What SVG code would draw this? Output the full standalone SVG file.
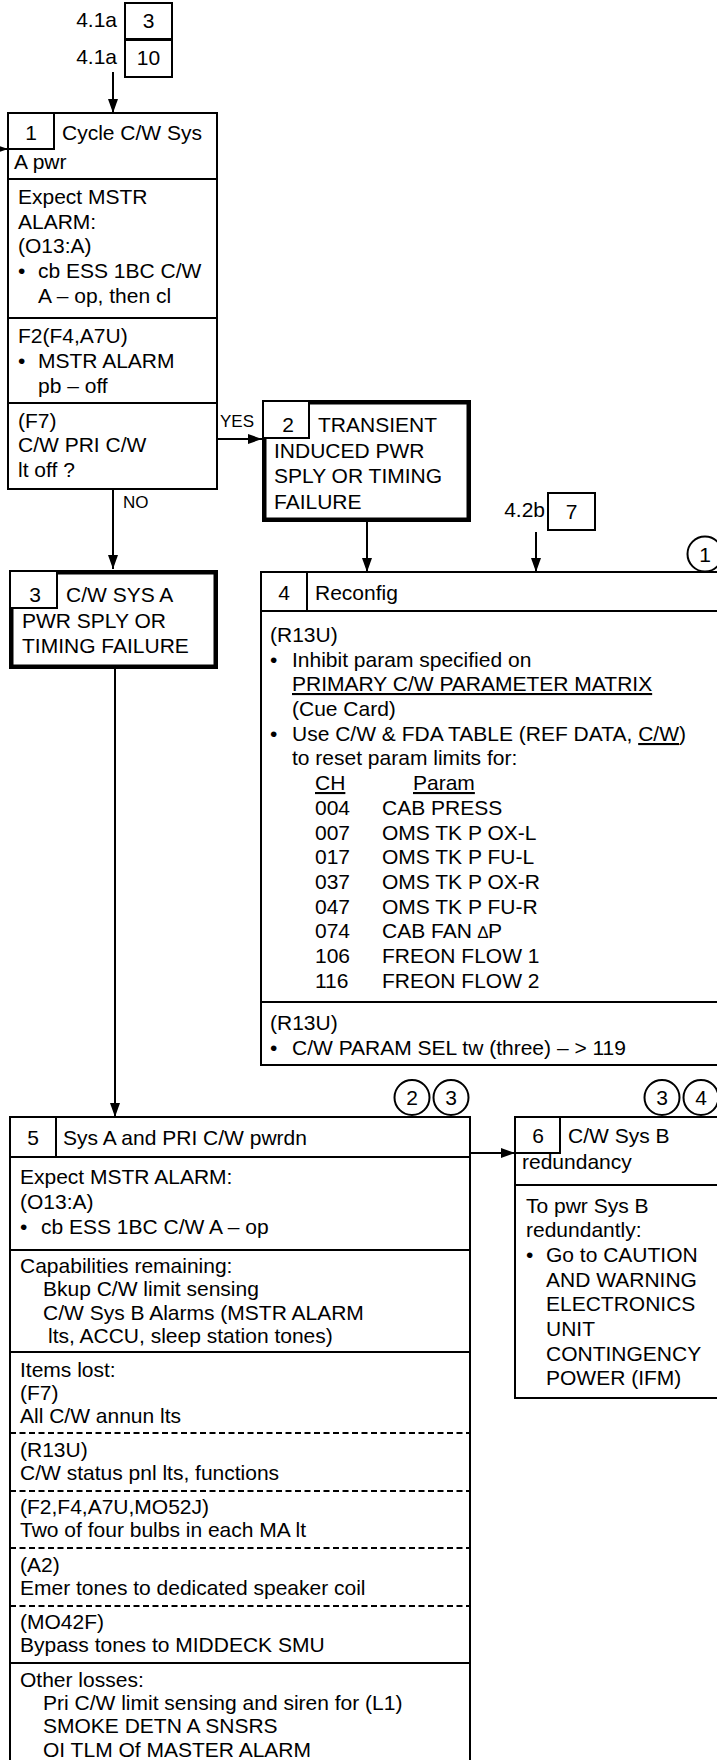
<svg xmlns="http://www.w3.org/2000/svg" width="717" height="1760" viewBox="0 0 717 1760">
<defs>
<marker id="ah" viewBox="0 0 14 10" refX="14" refY="5" markerWidth="14" markerHeight="10" markerUnits="userSpaceOnUse" orient="auto">
<path d="M0,0 L14,5 L0,10 z" fill="#000"/>
</marker>
</defs>
<style>
text{font-family:"Liberation Sans",Arial,Helvetica,sans-serif;font-size:21px;fill:#000}
.sm{font-size:17px}
.c{text-anchor:middle}
.e{text-anchor:end}
.u{text-decoration:underline}
.box{fill:#fff;stroke:#000;stroke-width:2}
.thick{fill:#fff;stroke:#000;stroke-width:4.5}
.ln{stroke:#000;stroke-width:2;fill:none}
.dash{stroke:#000;stroke-width:2;fill:none;stroke-dasharray:6,3.5}
.conn{stroke:#000;stroke-width:2;fill:none;marker-end:url(#ah)}
.circ{fill:#fff;stroke:#000;stroke-width:2}
</style>
<rect width="717" height="1760" fill="#fff"/>

<g id="connectors">
<line class="conn" x1="113" y1="72" x2="113" y2="113"/>
<line class="conn" x1="-10" y1="149" x2="8" y2="149"/>
<line class="conn" x1="217" y1="439" x2="262" y2="439"/>
<line class="conn" x1="113" y1="489" x2="113" y2="569"/>
<line class="conn" x1="367" y1="522" x2="367" y2="572"/>
<line class="conn" x1="536" y1="532" x2="536" y2="572"/>
<line class="conn" x1="115" y1="669" x2="115" y2="1117"/>
<line class="conn" x1="471" y1="1153" x2="515" y2="1153"/>
<text class="sm" x="220" y="427">YES</text>
<text class="sm" x="123" y="508">NO</text>
</g>

<g id="ref-top">
<rect class="box" x="125" y="3" width="47" height="36"/>
<rect class="box" x="125" y="40" width="47" height="37"/>
<text class="c" x="148.5" y="28">3</text>
<text class="c" x="148.5" y="65">10</text>
<text class="e" x="117" y="27">4.1a</text>
<text class="e" x="117" y="64">4.1a</text>
</g>

<g id="node1">
<rect class="box" x="8" y="113" width="209" height="376"/>
<rect class="box" x="8" y="113" width="46" height="36"/>
<line class="ln" x1="8" y1="179" x2="217" y2="179"/>
<line class="ln" x1="8" y1="318" x2="217" y2="318"/>
<line class="ln" x1="8" y1="403" x2="217" y2="403"/>
<text class="c" x="31" y="140">1</text>
<text x="62" y="140">Cycle C/W Sys</text>
<text x="14" y="169">A pwr</text>
<text x="18" y="204">Expect MSTR</text>
<text x="18" y="229">ALARM:</text>
<text x="18" y="253">(O13:A)</text>
<text x="18" y="278">•</text>
<text x="38" y="278">cb ESS 1BC C/W</text>
<text x="38" y="303">A – op, then cl</text>
<text x="18" y="343">F2(F4,A7U)</text>
<text x="18" y="368">•</text>
<text x="38" y="368">MSTR ALARM</text>
<text x="38" y="393">pb – off</text>
<text x="18" y="428">(F7)</text>
<text x="18" y="452">C/W PRI C/W</text>
<text x="18" y="477">lt off ?</text>
</g>

<g id="node2">
<rect class="thick" x="264.25" y="402.25" width="204.5" height="117.5"/>
<rect class="box" x="263" y="401" width="46" height="37"/>
<text class="c" x="288" y="432">2</text>
<text x="318" y="432">TRANSIENT</text>
<text x="274" y="458">INDUCED PWR</text>
<text x="274" y="483">SPLY OR TIMING</text>
<text x="274" y="509">FAILURE</text>
</g>

<g id="node3">
<rect class="thick" x="11.25" y="572.25" width="204.5" height="94.5"/>
<rect class="box" x="10" y="571" width="47" height="37"/>
<text class="c" x="35" y="602">3</text>
<text x="66" y="602">C/W SYS A</text>
<text x="22" y="628">PWR SPLY OR</text>
<text x="22" y="653">TIMING FAILURE</text>
</g>

<g id="ref7">
<rect class="box" x="548" y="493" width="47" height="37"/>
<text class="c" x="571.5" y="519">7</text>
<text class="e" x="545" y="517">4.2b</text>
</g>

<g id="node4">
<rect class="box" x="261" y="572" width="480" height="493"/>
<line class="ln" x1="261" y1="611" x2="720" y2="611"/>
<line class="ln" x1="307" y1="572" x2="307" y2="611"/>
<line class="ln" x1="261" y1="1002" x2="720" y2="1002"/>
<circle class="circ" cx="705" cy="554" r="17.5"/>
<text class="c" x="705" y="561.5">1</text>
<text class="c" x="284" y="600">4</text>
<text x="315" y="600">Reconfig</text>
<text x="270" y="642">(R13U)</text>
<text x="270" y="667">•</text>
<text x="292" y="667">Inhibit param specified on</text>
<text x="292" y="691" class="u">PRIMARY C/W PARAMETER MATRIX</text>
<text x="292" y="716">(Cue Card)</text>
<text x="270" y="741">•</text>
<text x="292" y="741">Use C/W &amp; FDA TABLE (REF DATA, <tspan class="u">C/W</tspan>)</text>
<text x="292" y="765">to reset param limits for:</text>
<text x="315" y="790" class="u">CH</text>
<text x="413" y="790" class="u">Param</text>
<text x="315" y="815">004</text><text x="382" y="815">CAB PRESS</text>
<text x="315" y="840">007</text><text x="382" y="840">OMS TK P OX-L</text>
<text x="315" y="864">017</text><text x="382" y="864">OMS TK P FU-L</text>
<text x="315" y="889">037</text><text x="382" y="889">OMS TK P OX-R</text>
<text x="315" y="914">047</text><text x="382" y="914">OMS TK P FU-R</text>
<text x="315" y="938">074</text><text x="382" y="938">CAB FAN <tspan font-size="17">∆</tspan>P</text>
<text x="315" y="963">106</text><text x="382" y="963">FREON FLOW 1</text>
<text x="315" y="988">116</text><text x="382" y="988">FREON FLOW 2</text>
<text x="270" y="1030">(R13U)</text>
<text x="270" y="1055">•</text>
<text x="292" y="1055">C/W PARAM SEL tw (three) – &gt; 119</text>
</g>

<g id="node5">
<rect class="box" x="10" y="1117" width="460" height="680"/>
<line class="ln" x1="10" y1="1157" x2="470" y2="1157"/>
<line class="ln" x1="56" y1="1117" x2="56" y2="1157"/>
<line class="ln" x1="10" y1="1250" x2="470" y2="1250"/>
<line class="ln" x1="10" y1="1352" x2="470" y2="1352"/>
<line class="dash" x1="10" y1="1433" x2="470" y2="1433"/>
<line class="dash" x1="10" y1="1491" x2="470" y2="1491"/>
<line class="dash" x1="10" y1="1548" x2="470" y2="1548"/>
<line class="dash" x1="10" y1="1606" x2="470" y2="1606"/>
<line class="ln" x1="10" y1="1663" x2="470" y2="1663"/>
<circle class="circ" cx="412" cy="1097.5" r="17.5"/>
<circle class="circ" cx="451" cy="1097.5" r="17.5"/>
<text class="c" x="412" y="1105">2</text>
<text class="c" x="451" y="1105">3</text>
<text class="c" x="33" y="1145">5</text>
<text x="63" y="1145">Sys A and PRI C/W pwrdn</text>
<text x="20" y="1184">Expect MSTR ALARM:</text>
<text x="20" y="1209">(O13:A)</text>
<text x="20" y="1234">•</text>
<text x="41" y="1234">cb ESS 1BC C/W A – op</text>
<text x="20" y="1273">Capabilities remaining:</text>
<text x="43" y="1296">Bkup C/W limit sensing</text>
<text x="43" y="1320">C/W Sys B Alarms (MSTR ALARM</text>
<text x="48" y="1343">lts, ACCU, sleep station tones)</text>
<text x="20" y="1377">Items lost:</text>
<text x="20" y="1400">(F7)</text>
<text x="20" y="1423">All C/W annun lts</text>
<text x="20" y="1457">(R13U)</text>
<text x="20" y="1480">C/W status pnl lts, functions</text>
<text x="20" y="1514">(F2,F4,A7U,MO52J)</text>
<text x="20" y="1537">Two of four bulbs in each MA lt</text>
<text x="20" y="1572">(A2)</text>
<text x="20" y="1595">Emer tones to dedicated speaker coil</text>
<text x="20" y="1629">(MO42F)</text>
<text x="20" y="1652">Bypass tones to MIDDECK SMU</text>
<text x="20" y="1687">Other losses:</text>
<text x="43" y="1710">Pri C/W limit sensing and siren for (L1)</text>
<text x="43" y="1733">SMOKE DETN A SNSRS</text>
<text x="43" y="1757">OI TLM Of MASTER ALARM</text>
</g>

<g id="node6">
<rect class="box" x="515" y="1117" width="230" height="281"/>
<rect class="box" x="515" y="1117" width="45" height="36"/>
<line class="ln" x1="515" y1="1185" x2="730" y2="1185"/>
<circle class="circ" cx="662" cy="1097.5" r="17.5"/>
<circle class="circ" cx="701" cy="1097.5" r="17.5"/>
<text class="c" x="662" y="1105">3</text>
<text class="c" x="701" y="1105">4</text>
<text class="c" x="538" y="1143">6</text>
<text x="568" y="1143">C/W Sys B</text>
<text x="522" y="1169">redundancy</text>
<text x="526" y="1213">To pwr Sys B</text>
<text x="526" y="1237">redundantly:</text>
<text x="526" y="1262">•</text>
<text x="546" y="1262">Go to CAUTION</text>
<text x="546" y="1287">AND WARNING</text>
<text x="546" y="1311">ELECTRONICS</text>
<text x="546" y="1336">UNIT</text>
<text x="546" y="1361">CONTINGENCY</text>
<text x="546" y="1385">POWER (IFM)</text>
</g>
</svg>
